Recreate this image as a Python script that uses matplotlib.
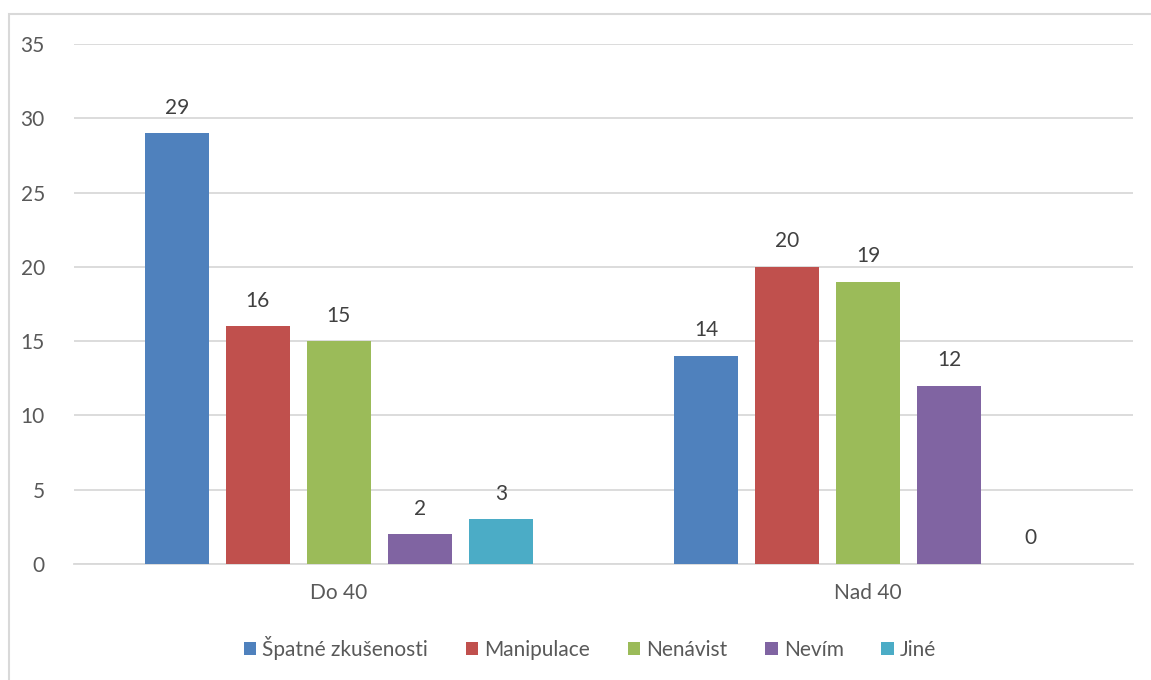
import matplotlib.pyplot as plt
import numpy as np
from matplotlib.patches import Rectangle

plt.rcParams['font.family'] = ['Lato', 'DejaVu Sans']

groups = ['Do 40', 'Nad 40']
series = ['Špatné zkušenosti', 'Manipulace', 'Nenávist', 'Nevím', 'Jiné']
values = {
    'Špatné zkušenosti': [29, 14],
    'Manipulace': [16, 20],
    'Nenávist': [15, 19],
    'Nevím': [2, 12],
    'Jiné': [3, 0],
}
colors = ['#4F81BD', '#C0504D', '#9BBB59', '#8064A2', '#4BACC6']

fig = plt.figure(figsize=(11.51, 6.8), dpi=100)
# chart frame
fig.patches.append(Rectangle((9 / 1151, -0.1), 1.2, (680 - 14) / 680 + 0.1,
                             transform=fig.transFigure, fill=False,
                             edgecolor='#D9D9D9', lw=1.5))
ax = fig.add_axes([74 / 1151, 116 / 680, 1059 / 1151, 520 / 680])

x = np.arange(len(groups))
w = 0.121
step = 0.153
for i, (name, c) in enumerate(zip(series, colors)):
    pos = x + (i - 2) * step
    ax.bar(pos, values[name], width=w, color=c, label=name, zorder=3)
    for xp, v in zip(pos, values[name]):
        ax.text(xp, v + 1.05, str(v), ha='center', va='bottom',
                fontsize=15, color='#404040')

ax.set_xlim(-0.5, 1.5)
ax.set_ylim(0, 35)
ax.set_yticks(range(0, 36, 5))
ax.set_xticks(x)
ax.set_xticklabels(groups)
ax.yaxis.grid(True, color='#D9D9D9', lw=1.3, zorder=0)
for s in ax.spines.values():
    s.set_visible(False)
ax.spines['bottom'].set_visible(True)
ax.spines['bottom'].set_color('#D9D9D9')
ax.spines['bottom'].set_linewidth(1.3)
ax.tick_params(axis='both', length=0, labelsize=15, colors='#595959')
ax.tick_params(axis='y', pad=21)
ax.tick_params(axis='x', pad=14)

ax.legend(loc='center', bbox_to_anchor=(590 / 1151, 32 / 680),
          bbox_transform=fig.transFigure, ncol=5, frameon=False,
          fontsize=15, handlelength=0.6, handleheight=0.6,
          handletextpad=0.3, columnspacing=1.8, labelcolor='#595959')

fig.savefig('out.png', dpi=100)
